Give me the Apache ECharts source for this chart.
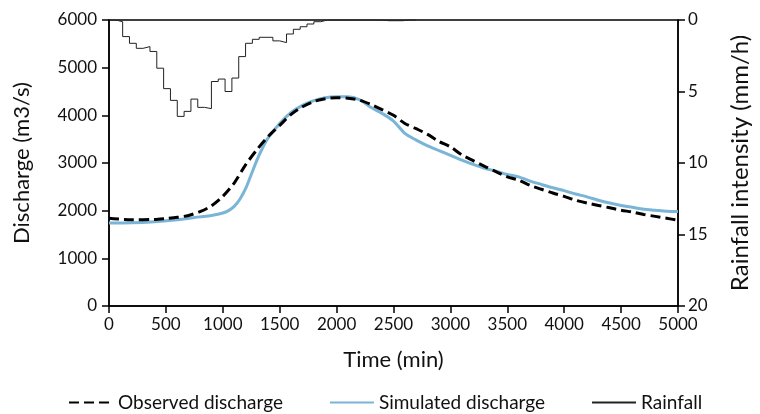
<!DOCTYPE html>
<html>
<head>
<meta charset="utf-8">
<script src="https://cdn.jsdelivr.net/npm/echarts@6/dist/echarts.min.js"></script>
<style>
  html, body { margin: 0; padding: 0; background: #fff; }
  #chart { width: 760px; height: 414px; }
</style>
</head>
<body>
<div id="chart"></div>
<script>
// observed discharge (m3/s) vs time (min)
var obsTime = [0, 200, 400, 500, 600, 700, 800, 900, 1000, 1100, 1200, 1300, 1400, 1500, 1600, 1700, 1800, 1900, 2000, 2100, 2200, 2300, 2400, 2500, 2600, 2700, 2800, 2900, 3000, 3100, 3200, 3300, 3400, 3500, 3600, 3700, 3800, 3900, 4000, 4100, 4200, 4300, 4400, 4500, 4600, 4700, 4800, 4900, 5000];
var obsFlow = [1840, 1810, 1815, 1835, 1860, 1900, 1980, 2100, 2300, 2580, 2960, 3280, 3560, 3790, 4020, 4180, 4290, 4350, 4370, 4360, 4320, 4230, 4120, 4000, 3830, 3720, 3600, 3450, 3340, 3170, 3050, 2930, 2820, 2710, 2640, 2530, 2450, 2370, 2300, 2220, 2160, 2110, 2060, 2010, 1970, 1920, 1880, 1840, 1800];

// simulated discharge (m3/s)
var simTime = [0, 200, 400, 600, 800, 900, 1000, 1050, 1100, 1150, 1200, 1250, 1300, 1350, 1400, 1500, 1600, 1700, 1800, 1900, 2000, 2100, 2200, 2300, 2400, 2500, 2600, 2700, 2800, 2900, 3000, 3100, 3200, 3300, 3400, 3500, 3600, 3700, 3800, 3900, 4000, 4100, 4200, 4300, 4400, 4500, 4600, 4700, 4800, 4900, 5000];
var simFlow = [1740, 1745, 1770, 1810, 1870, 1900, 1950, 2000, 2090, 2240, 2460, 2760, 3060, 3320, 3530, 3830, 4060, 4210, 4310, 4370, 4390, 4390, 4330, 4170, 4040, 3880, 3620, 3480, 3360, 3260, 3160, 3060, 2970, 2890, 2830, 2760, 2710, 2620, 2550, 2480, 2420, 2350, 2290, 2220, 2160, 2110, 2070, 2030, 2010, 1990, 1980];

// hourly rainfall intensity (mm/h), one value per 60 min from t=0
var rainStep = 60;
var rainRate = [0, 0.12, 1.16, 1.63, 1.98, 1.86, 2.2, 3.37, 4.8, 5.62, 6.74, 6.39, 5.53, 6.11, 6.2, 4.3, 4.13, 5.0, 4.06, 2.56, 1.63, 1.35, 1.21, 1.21, 1.46, 1.58, 0.98, 0.65, 0.47, 0.28, 0.12, 0, 0, 0, 0, 0, 0, 0, 0, 0, 0.05, 0.05, 0.05, 0, 0];

var xTicks = [0, 5000, 500];
var qAxis = [0, 6000, 1000];
var rAxis = [0, 20, 5];

function pairs(xs, ys) {
  return xs.map(function (x, i) { return [x, ys[i]]; });
}
var rainData = rainRate.map(function (v, i) { return [i * rainStep, v]; });
rainData.push([rainRate.length * rainStep, 0]);

var font = 'Lato, "Open Sans", sans-serif';
var plain = function (v) { return String(v); };
var chart = echarts.init(document.getElementById('chart'));
chart.setOption({
  animation: false,
  grid: { left: 109, right: 75, top: 20, bottom: 108, show: true, borderColor: '#000', borderWidth: 1.5 },
  legend: {
    left: 63, top: 388,
    itemWidth: 44, itemHeight: 10, itemGap: 46,
    itemStyle: { opacity: 0 },
    textStyle: { fontFamily: font, fontSize: 19, color: '#111' },
    data: ['Observed discharge', 'Simulated discharge', 'Rainfall']
  },
  xAxis: {
    type: 'value', min: xTicks[0], max: xTicks[1], interval: xTicks[2],
    name: 'Time (min)', nameLocation: 'middle', nameGap: 43,
    nameTextStyle: { fontFamily: font, fontSize: 22, color: '#111' },
    axisLine: { lineStyle: { color: '#000', width: 1.5 } },
    axisTick: { length: 7, lineStyle: { color: '#000', width: 1.5 } },
    axisLabel: { fontFamily: font, fontSize: 17, color: '#111', margin: 10, formatter: plain },
    splitLine: { show: false }
  },
  yAxis: [{
    type: 'value', min: qAxis[0], max: qAxis[1], interval: qAxis[2],
    name: 'Discharge (m3/s)', nameLocation: 'middle', nameGap: 76, nameRotate: 90,
    nameTextStyle: { fontFamily: font, fontSize: 22, color: '#111' },
    axisLine: { show: true, lineStyle: { color: '#000', width: 1.5 } },
    axisTick: { show: true, length: 7, lineStyle: { color: '#000', width: 1.5 } },
    axisLabel: { fontFamily: font, fontSize: 17, color: '#111', margin: 12, formatter: plain },
    splitLine: { show: false }
  }, {
    type: 'value', position: 'right', inverse: true,
    min: rAxis[0], max: rAxis[1], interval: rAxis[2],
    name: 'Rainfall intensity (mm/h)', nameLocation: 'middle', nameGap: 50, nameRotate: 90,
    nameTextStyle: { fontFamily: font, fontSize: 24, color: '#111' },
    axisLine: { show: true, lineStyle: { color: '#000', width: 1.5 } },
    axisTick: { show: true, length: 7, lineStyle: { color: '#000', width: 1.5 } },
    axisLabel: { fontFamily: font, fontSize: 17, color: '#111', margin: 10 },
    splitLine: { show: false }
  }],
  series: [{
    name: 'Rainfall', type: 'line', yAxisIndex: 1, step: 'end',
    showSymbol: false, symbol: 'none', data: rainData,
    lineStyle: { color: '#222', width: 1 }, itemStyle: { color: '#222' }
  }, {
    name: 'Simulated discharge', type: 'line', yAxisIndex: 0, smooth: 0.3,
    showSymbol: false, symbol: 'none', data: pairs(simTime, simFlow),
    lineStyle: { color: '#7ab4d6', width: 3 }, itemStyle: { color: '#7ab4d6' }
  }, {
    name: 'Observed discharge', type: 'line', yAxisIndex: 0, smooth: 0.3,
    showSymbol: false, symbol: 'none', data: pairs(obsTime, obsFlow),
    lineStyle: { color: '#000', width: 3, type: [10, 5] }, itemStyle: { color: '#000' }
  }]
});
</script>
</body>
</html>
